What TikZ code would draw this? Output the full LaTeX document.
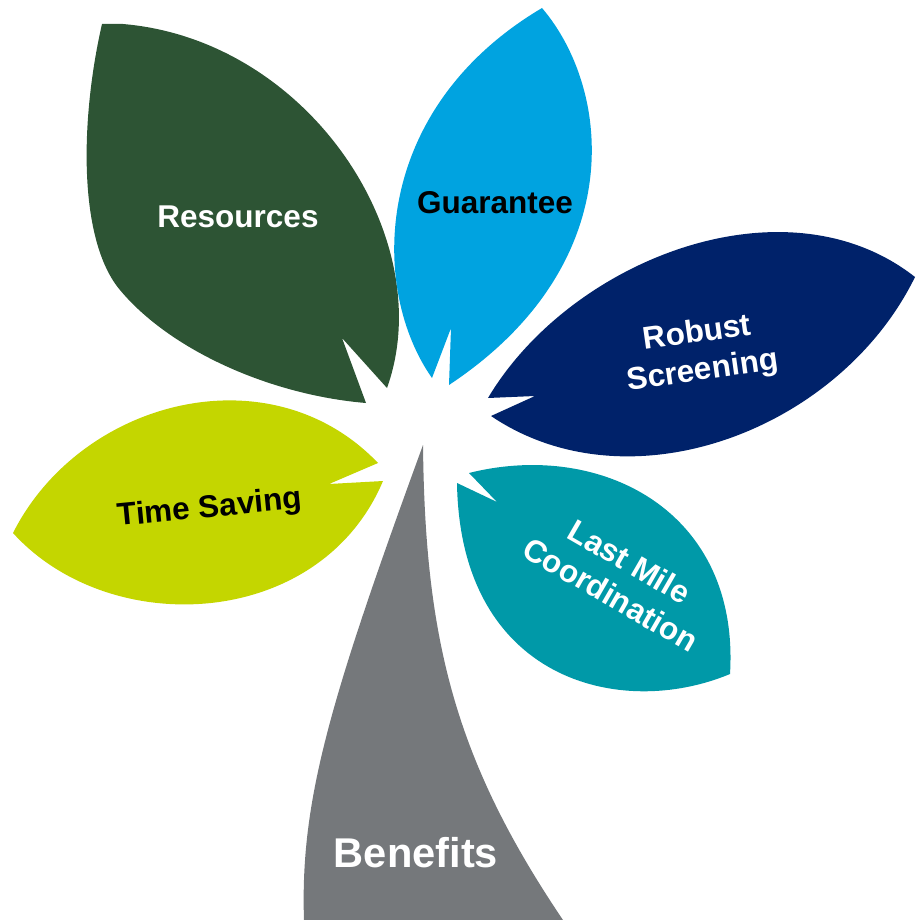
\documentclass[tikz,border=0pt]{standalone}
\usepackage{fontspec}
\setmainfont{Liberation Sans}
\definecolor{resgreen}{HTML}{2D5434}
\definecolor{guarblue}{HTML}{00A3E0}
\definecolor{robnavy}{HTML}{00226A}
\definecolor{lastteal}{HTML}{0099A8}
\definecolor{timelime}{HTML}{C4D600}
\definecolor{stemgray}{HTML}{75787B}
\begin{document}
\begin{tikzpicture}[x=1pt,y=-1pt,
  lbl/.style={font=\fontsize{31.5}{38}\selectfont\bfseries, inner sep=0pt, align=center},
  bigl/.style={font=\fontsize{41.6}{50}\selectfont\bfseries, inner sep=0pt}]
\useasboundingbox (0,0) rectangle (915,920);
% Resources leaf
\fill[resgreen] (102,24) .. controls (80,120) and (78,240) .. (120,290)
  .. controls (170,350) and (270,395) .. (366,403) -- (342,338) -- (387,388)
  .. controls (440,240) and (310,40) .. (123,24) -- cycle;
% Guarantee leaf
\fill[guarblue] (542,8) .. controls (612,90) and (630,265) .. (449,385)
  -- (451,328) -- (432,378) .. controls (370,290) and (370,110) .. (542,8) -- cycle;
% Robust Screening leaf
\fill[robnavy] (488,398) .. controls (570,260) and (785,175) .. (915,277)
  .. controls (840,430) and (630,510) .. (491,416) -- (535,396) -- cycle;
% Last Mile leaf
\fill[lastteal] (469,473) .. controls (600,440) and (740,510) .. (730,674)
  .. controls (620,720) and (460,680) .. (457,483) -- (497,502) -- cycle;
% Time Saving leaf
\fill[timelime] (13,533) .. controls (80,400) and (270,350) .. (378,463)
  -- (329,484) -- (383,481) .. controls (320,630) and (110,640) .. (13,533) -- cycle;
% Stem
\fill[stemgray] (423,445) .. controls (425,640) and (455,760) .. (563,920)
  -- (304,920) .. controls (300,800) and (330,700) .. (423,445) -- cycle;
% Labels
\node[lbl, text=white, anchor=base] (resources) at (238,227) {Resources};
\node[lbl, text=black, anchor=base] (guarantee) at (495,213) {Guarantee};
\node[lbl, text=white, rotate=8] (robust) at (700,353) {Robust\\Screening};
\node[lbl, text=white, rotate=-30] (lastmile) at (620,578) {Last Mile\\Coordination};
\node[lbl, text=black, anchor=base, rotate=5.5] (timesaving) at (210.5,517) {Time Saving};
\node[bigl, text=white, anchor=base] (benefits) at (416,867) {Benefits};
\end{tikzpicture}
\end{document}
